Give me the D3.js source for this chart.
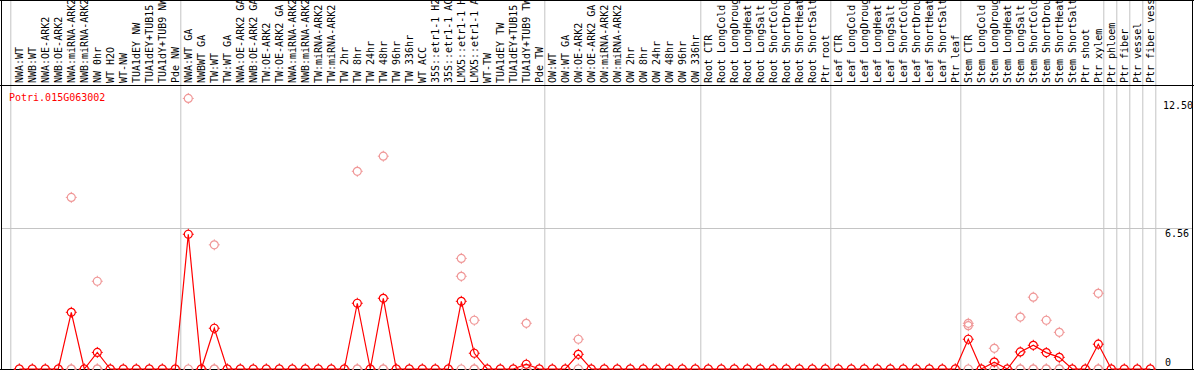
<!DOCTYPE html>
<html>
<head>
<meta charset="utf-8">
<script src="https://cdn.jsdelivr.net/npm/d3@7"></script>
<style>
  body { margin: 0; background: #fff; }
  text { font-family: "DejaVu Sans Mono", "Liberation Mono", monospace; font-size: 10px; }
</style>
</head>
<body>
<svg id="chart"></svg>
<script>
// Sample labels (one per column)
const labels = [
  'NWA:WT', 'NWB:WT', 'NWA:OE-ARK2', 'NWB:OE-ARK2', 'NWA:miRNA-ARK2', 'NWB:miRNA-ARK2', 'NW 0hr', 'WT H2O', 'WT-NW',
  'TUA1dEY NW', 'TUA1dEY+TUB15', 'TUA1dY+TUB9 NW', 'Pde NW',
  'NWA:WT GA', 'NWBWT GA', 'TW:WT', 'TW:WT GA', 'NWA:OE-ARK2 GA', 'NWB:OE-ARK2 GA', 'TW:OE-ARK2', 'TW:OE-ARK2 GA',
  'NWA:miRNA-ARK2', 'NWB:miRNA-ARK2', 'TW:miRNA-ARK2', 'TW:miRNA-ARK2', 'TW 2hr', 'TW 8hr', 'TW 24hr', 'TW 48hr',
  'TW 96hr', 'TW 336hr', 'WT ACC', '35S::etr1-1 H2O', '35S::etr1-1 ACC', 'LMX5::etr1-1 H2O', 'LMX5::etr1-1 ACC',
  'WT-TW', 'TUA1dEY TW', 'TUA1dEY+TUB15', 'TUA1dY+TUB9 TW', 'Pde TW',
  'OW:WT', 'OW:WT GA', 'OW:OE-ARK2', 'OW:OE-ARK2 GA', 'OW:miRNA-ARK2', 'OW:miRNA-ARK2', 'OW 2hr', 'OW 8hr',
  'OW 24hr', 'OW 48hr', 'OW 96hr', 'OW 336hr',
  'Root CTR', 'Root LongCold', 'Root LongDrought', 'Root LongHeat', 'Root LongSalt', 'Root ShortCold',
  'Root ShortDrought', 'Root ShortHeat', 'Root ShortSalt', 'Ptr root',
  'Leaf CTR', 'Leaf LongCold', 'Leaf LongDrought', 'Leaf LongHeat', 'Leaf LongSalt', 'Leaf ShortCold',
  'Leaf ShortDrought', 'Leaf ShortHeat', 'Leaf ShortSalt', 'Ptr leaf',
  'Stem CTR', 'Stem LongCold', 'Stem LongDrought', 'Stem LongHeat', 'Stem LongSalt', 'Stem ShortCold',
  'Stem ShortDrought', 'Stem ShortHeat', 'Stem ShortSalt', 'Ptr shoot',
  'Ptr xylem', 'Ptr phloem', 'Ptr fiber', 'Ptr vessel', 'Ptr fiber vessel'
];

// Mean expression per column (red line)
const meanValues = [
  0, 0, 0, 0, 2.63, 0, 0.77, 0, 0, 0, 0, 0, 0,
  6.25, 0, 1.89, 0, 0, 0, 0, 0, 0, 0, 0, 0, 0, 3.05, 0, 3.28,
  0, 0, 0, 0, 0, 3.14, 0.73, 0, 0, 0, 0.22, 0,
  0, 0, 0.68, 0, 0, 0, 0, 0, 0, 0, 0, 0,
  0, 0, 0, 0, 0, 0, 0, 0, 0, 0,
  0, 0, 0, 0, 0, 0, 0, 0, 0, 0,
  1.38, 0, 0.32, 0, 0.79, 1.10, 0.76, 0.54, 0, 0,
  1.15, 0, 0, 0, 0
];

// Individual replicate values per column (pale circles)
const replicates = [
  [0], [0], [0], [0], [7.96, 0, 0], [0], [4.07, 0, 0], [0], [0], [0], [0], [0], [0],
  [12.55, 0], [0], [5.76, 0, 0], [0], [0], [0], [0], [0], [0], [0], [0], [0], [0], [9.17, 0, 0], [0], [9.87, 0, 0],
  [0], [0], [0], [0], [0], [5.13, 4.30, 0], [2.26, 0, 0], [0], [0], [0], [2.12, 0, 0], [0],
  [0], [0], [1.38, 0], [0], [0], [0], [0], [0], [0], [0], [0], [0],
  [0], [0], [0], [0], [0], [0], [0], [0], [0], [0],
  [0], [0], [0], [0], [0], [0], [0], [0], [0], [0],
  [2.12, 2.01, 0], [0], [0.96, 0, 0], [0], [2.41, 0, 0], [3.33, 0, 0], [2.26, 0, 0], [1.70, 0, 0], [0], [0],
  [3.51, 0, 0], [0], [0], [0], [0]
];

// Columns after which a group divider is drawn
const dividerAfter = [12, 40, 52, 62, 72, 83, 84, 85, 86, 87];

const yTicks = [0, 6.56, 12.50];
const title = 'Potri.015G063002';

const width = 1194;
const height = 370;
const headerBottom = 85;
const plotBottom = 369;

const svg = d3.select('#chart')
    .attr('width', width)
    .attr('height', height);

const x = d3.scalePoint()
    .domain(d3.range(labels.length))
    .range([19.3, 19.3 + 13 * (labels.length - 1)]);

const y = d3.scaleLinear()
    .domain([0, 12.5])
    .range([plotBottom, 99.5]);

// vertical grey dividers
svg.append('line')
    .attr('x1', x(0) - 8.5).attr('x2', x(0) - 8.5)
    .attr('y1', 0).attr('y2', plotBottom)
    .attr('stroke', '#c4c4c4');

svg.selectAll('.divider')
    .data(dividerAfter)
  .enter().append('line')
    .attr('class', 'divider')
    .attr('x1', d => x(d) + 5.5).attr('x2', d => x(d) + 5.5)
    .attr('y1', 0).attr('y2', plotBottom)
    .attr('stroke', '#c4c4c4');

// horizontal grid line at the middle tick
svg.append('line')
    .attr('x1', 1).attr('x2', 1193)
    .attr('y1', Math.round(y(yTicks[1])) + 0.5).attr('y2', Math.round(y(yTicks[1])) + 0.5)
    .attr('stroke', '#c4c4c4');

// frame
svg.append('line').attr('x1', 0).attr('x2', width).attr('y1', 0.5).attr('y2', 0.5).attr('stroke', '#000');
svg.append('line').attr('x1', 0).attr('x2', width).attr('y1', headerBottom + 0.5).attr('y2', headerBottom + 0.5).attr('stroke', '#000');
svg.append('line').attr('x1', 0).attr('x2', width).attr('y1', plotBottom + 0.5).attr('y2', plotBottom + 0.5).attr('stroke', '#000');
svg.append('line').attr('x1', 1.5).attr('x2', 1.5).attr('y1', 0).attr('y2', height).attr('stroke', '#000');
svg.append('line').attr('x1', 1192.5).attr('x2', 1192.5).attr('y1', 0).attr('y2', height).attr('stroke', '#000');

// rotated column labels
svg.selectAll('.label')
    .data(labels)
  .enter().append('text')
    .attr('class', 'label')
    .attr('transform', (d, i) => 'translate(' + (x(i) + 3.5) + ',' + (headerBottom - 2) + ') rotate(-90)')
    .attr('fill', '#000')
    .text(d => d);

// title
svg.append('text')
    .attr('x', 9)
    .attr('y', 101)
    .attr('fill', '#ff0000')
    .text(title);

// y tick labels on the right
svg.selectAll('.ytick')
    .data(yTicks)
  .enter().append('text')
    .attr('class', 'ytick')
    .attr('x', d => d === 0 ? 1165 : (d >= 10 ? 1163 : 1165))
    .attr('y', d => d === 0 ? y(d) - 3 : y(d) + 9)
    .attr('fill', '#000')
    .text(d => d === 0 ? '0' : d.toFixed(2));

// marker: circle with four small ticks
function marker(g, color) {
    g.append('circle').attr('r', 4).attr('fill', 'none').attr('stroke', color).attr('stroke-width', 1.2);
    g.append('path')
        .attr('d', 'M0,-4V-5.5M0,4V5.5M-4,0H-5.5M4,0H5.5')
        .attr('stroke', color).attr('stroke-width', 1);
}

// pale replicate points
const repPoints = [];
replicates.forEach((vals, i) => vals.forEach(v => repPoints.push({ i: i, v: v })));

svg.selectAll('.rep')
    .data(repPoints)
  .enter().append('g')
    .attr('class', 'rep')
    .attr('transform', d => 'translate(' + x(d.i) + ',' + y(d.v) + ')')
    .each(function() { marker(d3.select(this), '#f09898'); });

// mean line
svg.append('path')
    .datum(meanValues)
    .attr('fill', 'none')
    .attr('stroke', '#ff0000')
    .attr('stroke-width', 1.2)
    .attr('d', d3.line()
        .x((d, i) => x(i))
        .y(d => y(d))
    );

svg.selectAll('.mean')
    .data(meanValues)
  .enter().append('g')
    .attr('class', 'mean')
    .attr('transform', (d, i) => 'translate(' + x(i) + ',' + y(d) + ')')
    .each(function() { marker(d3.select(this), '#ff0000'); });
</script>
</body>
</html>
